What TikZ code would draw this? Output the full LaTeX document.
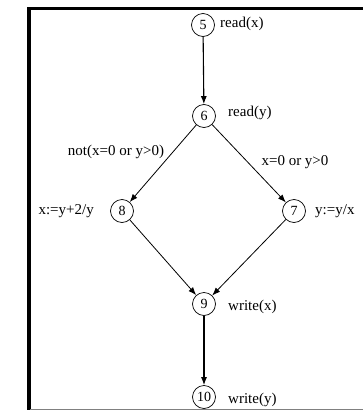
\documentclass[tikz,border=0pt]{standalone}
\usepackage{fontspec}
\setmainfont{Liberation Serif}
\usetikzlibrary{arrows.meta}
\begin{document}
\begin{tikzpicture}[x=1pt,y=-1pt,
  vtx/.style={draw,circle,line width=0.7pt,minimum size=23pt,inner sep=0pt,font=\fontsize{14}{14}\selectfont},
  lbl/.style={inner sep=0pt,font=\fontsize{15}{15}\selectfont},
  arr/.style={-{Latex[length=8pt,width=6pt]},line width=0.8pt},
  varr/.style={-{Latex[length=8pt,width=6pt]},line width=1.1pt}]
\useasboundingbox (0,0) rectangle (363,410);
% frame
\draw[line width=3pt] (27,8.5) -- (363,8.5);
\draw[line width=3.5pt] (28.8,7) -- (28.8,410);
\draw[gray,line width=1pt] (30,409.5) -- (363,409.5);
% vertices
\node[vtx] (n5) at (203,25) {5};
\node[vtx] (n6) at (204,116) {6};
\node[vtx] (n8) at (122,211) {8};
\node[vtx] (n7) at (294,211) {7};
\node[vtx] (n9) at (204,304) {9};
\node[vtx] (n10) at (204,397) {10};
% statements
\node[lbl,anchor=west] (t5) at (220,24) {read(x)};
\node[lbl,anchor=west] (t6) at (228,113) {read(y)};
\node[lbl,anchor=east] (t8) at (94,211) {x:=y+2/y};
\node[lbl,anchor=west] (t7) at (315,211) {y:=y/x};
\node[lbl,anchor=west] (t9) at (228,307) {write(x)};
\node[lbl,anchor=west] (t10) at (228,400) {write(y)};
% edges
\draw[varr] (n5) -- (n6);
\draw[arr] (n6) -- (n8);
\draw[arr] (n6) -- (n7);
\draw[arr] (n8) -- (n9);
\draw[arr] (n7) -- (n9);
\draw[varr] (n9) -- (n10);
% edge labels
\node[lbl] (e68) at (116,152) {not(x=0 or y>0)};
\node[lbl] (e67) at (295,162) {x=0 or y>0};
\end{tikzpicture}
\end{document}
